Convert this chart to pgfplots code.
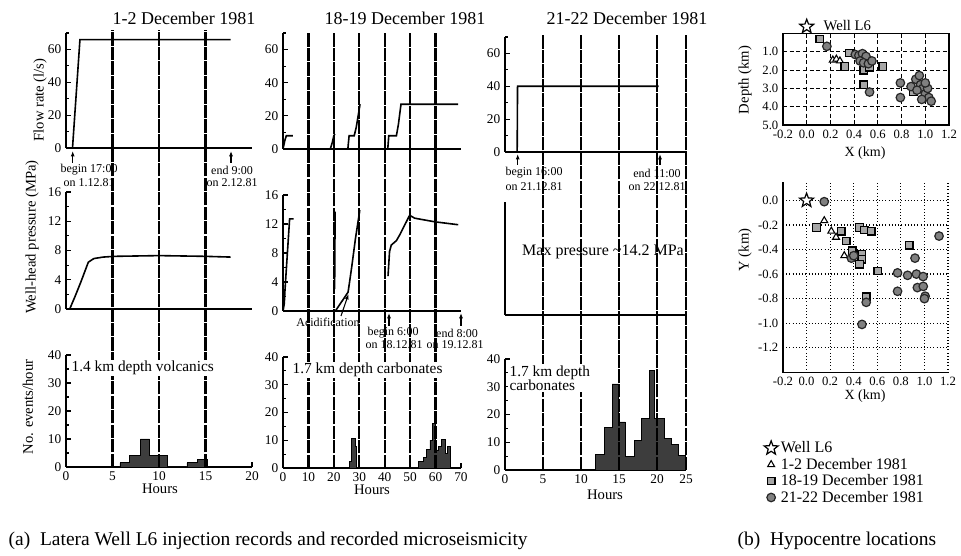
\documentclass[border=0pt]{standalone}
\usepackage{fontspec}
\setmainfont{Liberation Serif}
\usepackage{pgfplots}
\pgfplotsset{compat=1.18}
\usetikzlibrary{arrows.meta}
\newcommand{\fsz}[1]{\fontsize{#1}{#1}\selectfont}

\pgfdeclareplotmark{ostar}{%
  \pgfpathmoveto{\pgfpointpolar{90}{\pgfplotmarksize}}%
  \pgfpathlineto{\pgfpointpolar{126}{0.42\pgfplotmarksize}}%
  \pgfpathlineto{\pgfpointpolar{162}{\pgfplotmarksize}}%
  \pgfpathlineto{\pgfpointpolar{198}{0.42\pgfplotmarksize}}%
  \pgfpathlineto{\pgfpointpolar{234}{\pgfplotmarksize}}%
  \pgfpathlineto{\pgfpointpolar{270}{0.42\pgfplotmarksize}}%
  \pgfpathlineto{\pgfpointpolar{306}{\pgfplotmarksize}}%
  \pgfpathlineto{\pgfpointpolar{342}{0.42\pgfplotmarksize}}%
  \pgfpathlineto{\pgfpointpolar{18}{\pgfplotmarksize}}%
  \pgfpathlineto{\pgfpointpolar{54}{0.42\pgfplotmarksize}}%
  \pgfpathclose
  \pgfusepathqfillstroke
}

\pgfplotsset{
  panel/.style={
    scale only axis, anchor=south west, clip=false,
    axis x line*=bottom, axis y line*=left,
    axis line style={line width=1.1pt},
    tick style={line width=0.9pt,black},
    tick align=inside,
    major tick length=3.5pt, minor tick length=2.2pt,
    /pgf/number format/assume math mode=true,
    tick label style={font=\fsz{10}},
    ytick pos=left, xtick pos=bottom,
  },
  c1/.style={panel, xmin=0, xmax=20, width=139.5pt},
  c2/.style={panel, xmin=0, xmax=70, width=133.5pt},
  c3/.style={panel, xmin=0, xmax=23.8, width=135.75pt},
  flow/.style={ymin=0, ymax=70, ytick={0,20,40,60}, minor ytick={10,30,50,70}, xtick=\empty},
  pres/.style={ymin=0, ymax=16, ytick={0,4,8,12,16}, minor ytick={2,6,10,14}, xtick=\empty},
  hist/.style={ymin=0, ymax=40, ytick={0,10,20,30,40}, minor ytick={5,15,25,35}},
  curve/.style={black, line width=1.2pt, no marks},
  bars/.style={draw=black, line width=0.6pt, fill=black!76, const plot mark left, no marks},
  vline/.style={black, line width=1.8pt, dash pattern=on 10pt off 0.9pt, no marks},
  loc/.style={
    scale only axis, anchor=south west, clip=false,
    xmin=-0.2, xmax=1.2,
    xtick={-0.2,0,0.2,0.4,0.6,0.8,1.0,1.2},
    axis line style={line width=1.1pt},
    major tick length=0pt,
    /pgf/number format/assume math mode=true,
    /pgf/number format/fixed, /pgf/number format/fixed zerofill, /pgf/number format/precision=1,
    tick label style={font=\fsz{9.5}},
    grid=major,
  },
  tri/.style={only marks, mark=triangle*, mark size=3pt, mark options={fill=white, draw=black, line width=0.8pt}},
  sq/.style={only marks, mark=square*, mark size=2.8pt, mark options={fill=black!35, draw=black, line width=1pt}},
  circ/.style={only marks, mark=*, mark size=3.2pt, mark options={fill=black!50, draw=black!85, line width=0.9pt}},
  wstar/.style={only marks, mark=ostar, mark size=5.5pt, mark options={fill=white, draw=black, line width=0.9pt}},
}

\begin{document}
\begin{tikzpicture}[x=0.75pt,y=0.75pt]
\path[use as bounding box] (0,0) rectangle (961,556);

% ---------------- Column 1 : 1-2 December 1981
\begin{axis}[c1, flow, height=86.25pt, at={(66*0.75pt,408*0.75pt)}]
\addplot[curve] coordinates {(0.7,0)(1.5,66)(17.7,66)};
\end{axis}
\begin{axis}[c1, pres, height=87.75pt, at={(66*0.75pt,247*0.75pt)}]
\addplot[curve] coordinates {(0.4,0)(1,1.8)(1.6,3.7)(2.4,6.4)(3,6.9)(4,7.1)(5.2,7.2)(10,7.3)(15,7.2)(17.7,7.1)};
\end{axis}
\begin{axis}[c1, hist, height=84pt, at={(66*0.75pt,89*0.75pt)}, xtick={0,5,10,15,20}]
\addplot[bars] coordinates {(5.8,1.5)(6.8,4.2)(8,10)(9,4.2)(10.9,0)(13,1.5)(14.1,2.7)(15.2,2.7)} \closedcycle;
\addplot[vline] coordinates {(5,0)(5,156)};
\addplot[vline] coordinates {(10,0)(10,156)};
\addplot[vline] coordinates {(15,0)(15,156)};
\end{axis}

% ---------------- Column 2 : 18-19 December 1981
\begin{axis}[c2, flow, height=87pt, at={(283*0.75pt,407*0.75pt)}]
\addplot[curve] coordinates {(0,0)(0.7,5)(1.3,8)(3.9,8)};
\addplot[curve] coordinates {(18.6,0)(19.4,4)(20,8)(20.4,9)};
\addplot[curve] coordinates {(25.5,0)(26,8)(28,8)(28.8,13)(30.3,27)};
\addplot[curve] coordinates {(41.2,0)(41.6,8)(44.6,8)(45.4,15)(46.4,27)(68.9,27)};
\end{axis}
\begin{axis}[c2, pres, height=87pt, at={(283*0.75pt,245*0.75pt)}]
\addplot[curve] coordinates {(0,0)(0.5,1)(0.8,3)(2.6,12.7)(4.2,12.7)};
\addplot[curve] coordinates {(20.3,3)(20.5,13.7)};
\addplot[curve] coordinates {(20.6,0)(25.6,2.6)(27,6)(28.5,10)(30.2,13.9)};
\addplot[curve] coordinates {(41.3,4.8)(41.9,8.2)(42.6,9.1)(44.6,9.7)(45.9,10.5)(47.2,11.4)(49.8,13.2)(51.8,12.8)(59.7,12.3)(68.9,11.9)};
\end{axis}
\begin{axis}[c2, hist, height=83.25pt, at={(283*0.75pt,88*0.75pt)}, xtick={0,10,20,30,40,50,60,70}]
\addplot[bars] coordinates {(26.1,2.2)(27,10.7)(28.3,7.7)(29,0)(53.2,2.2)(55.2,3.8)(56.5,6.7)(57.8,10)(58.7,16.2)(59.8,6.5)(61.1,7.9)(62.4,10.4)(63.7,5.2)(64.6,7.7)(65.9,7.7)} \closedcycle;
\addplot[vline] coordinates {(10,0)(10,156.8)};
\addplot[vline] coordinates {(20,0)(20,156.8)};
\addplot[vline] coordinates {(30,0)(30,156.8)};
\addplot[vline] coordinates {(40,0)(40,156.8)};
\addplot[vline] coordinates {(50,0)(50,156.8)};
\addplot[vline] coordinates {(60,0)(60,156.8)};
\end{axis}

% ---------------- Column 3 : 21-22 December 1981
\begin{axis}[c3, flow, height=86.25pt, at={(505*0.75pt,404*0.75pt)}]
\addplot[curve] coordinates {(1.6,0)(1.65,40)(20.2,40)};
\end{axis}
\begin{axis}[c3, ymin=0, ymax=16, ytick=\empty, xtick=\empty, height=84.75pt, at={(505*0.75pt,241*0.75pt)}]
\addplot[draw=none] coordinates {(0,0)};
\end{axis}
\begin{axis}[c3, hist, height=83.25pt, at={(505*0.75pt,86*0.75pt)}, xtick={0,5,10,15,20,23.8}, xticklabels={0,5,10,15,20,25}]
\addplot[bars] coordinates {(11.9,5.7)(13.07,15.3)(14.08,31)(14.96,17.3)(15.83,4.8)(17.02,10.5)(17.98,18.5)(18.99,35.8)(19.65,18.5)(20.96,11.3)(21.84,9.3)(22.8,5.4)(23.68,5.4)} \closedcycle;
\addplot[vline] coordinates {(5,0)(5,156.8)};
\addplot[vline] coordinates {(10,0)(10,156.8)};
\addplot[vline] coordinates {(15,0)(15,156.8)};
\addplot[vline] coordinates {(20,0)(20,156.8)};
\addplot[vline] coordinates {(23.8,0)(23.8,156.8)};
\end{axis}

% ---------------- (b) depth section
\begin{axis}[loc, at={(783*0.75pt,431*0.75pt)}, width=124.5pt, height=68.6pt,
  ymin=0, ymax=5, y dir=reverse, ytick={1,2,3,4,5},
  grid style={densely dashed, black, line width=0.7pt}]
\addplot[wstar] coordinates {(0,-0.38)};
\addplot[tri] coordinates {(0.22,1.45)(0.25,1.4)(0.28,1.5)};
\addplot[sq] coordinates {(0.11,0.3)(0.36,1.07)(0.32,1.8)(0.48,2.0)(0.53,1.85)(0.64,1.8)(0.48,2.8)(0.9,3.2)};
\addplot[circ] coordinates {(0.17,0.7)(0.41,1.15)(0.44,1.2)(0.47,1.1)(0.5,1.25)(0.45,1.5)(0.48,1.6)(0.52,1.65)(0.55,1.5)(0.53,3.2)(0.79,2.7)(0.79,3.5)(0.88,2.9)(0.92,2.5)(0.95,2.3)(0.96,2.8)(0.98,3.0)(1.0,3.3)(1.02,3.0)(1.03,3.5)(1.05,3.7)(0.93,3.1)(1.0,2.7)(0.97,3.6)};
\end{axis}

% ---------------- (b) plan view
\begin{axis}[loc, at={(783*0.75pt,183.7*0.75pt)}, width=123.75pt, height=142.7pt,
  ymin=-1.4, ymax=0.15, ytick={-1.2,-1.0,-0.8,-0.6,-0.4,-0.2,0},
  axis x line*=bottom, axis y line*=left,
  grid style={dotted, black, line width=0.9pt},
  legend cell align=left,
  legend style={at={(-0.14,-0.335)}, anchor=north west, draw=none, fill=none, font=\fsz{12}, row sep=-1.5pt}]
\addplot[wstar] coordinates {(0,0)};
\addlegendentry{Well L6}
\addplot[tri] coordinates {(0.15,-0.165)(0.21,-0.25)(0.25,-0.3)(0.32,-0.45)};
\addlegendentry{1-2 December 1981}
\addplot[sq] coordinates {(0.084,-0.22)(0.295,-0.25)(0.337,-0.33)(0.388,-0.41)(0.449,-0.22)(0.49,-0.24)(0.548,-0.25)(0.468,-0.44)(0.468,-0.48)(0.449,-0.52)(0.604,-0.575)(0.871,-0.365)(0.506,-0.785)};
\addlegendentry{18-19 December 1981}
\addplot[circ] coordinates {(0.15,-0.01)(0.38,-0.47)(0.4,-0.45)(0.47,-1.01)(0.506,-0.83)(0.772,-0.59)(0.857,-0.61)(0.772,-0.74)(0.92,-0.47)(0.932,-0.60)(0.989,-0.62)(0.94,-0.71)(0.99,-0.70)(1.006,-0.78)(1.0,-0.80)(1.124,-0.29)};
\addlegendentry{21-22 December 1981}
\end{axis}

% ---------------- text
\begin{scope}[shift={(0,417pt)}, x=0.75pt, y=-0.75pt]
\node[font=\fsz{13.5}] at (184,18) {1-2 December 1981};
\node[font=\fsz{13.5}] at (405,18) {18-19 December 1981};
\node[font=\fsz{13.5}] at (627,18) {21-22 December 1981};

\node[font=\fsz{11}, rotate=90] at (40,100) {Flow rate (l/s)};
\node[font=\fsz{11}, rotate=90] at (32,237) {Well-head pressure (MPa)};
\node[font=\fsz{11}, rotate=90] at (28,407) {No. events/hour};

\begin{scope}[font=\fsz{9}, inner sep=0pt]
\node at (89,170) {begin 17:00};
\node at (89,183) {on 1.12.81};
\node at (232,170) {end 9:00};
\node at (232,183) {on 2.12.81};
\node at (393,333) {begin 6:00};
\node at (394,345) {on 18.12.81};
\node at (457,333) {end 8:00};
\node at (455,345) {on 19.12.81};
\node at (534,173) {begin 16:00};
\node at (534,187) {on 21.12.81};
\node at (657,173) {end 11:00};
\node at (657,187) {on 22.12.81};
\node at (328,322) {Acidification};
\end{scope}
\draw[-{Latex[length=4pt,width=3pt]}, line width=0.8pt] (72.7,163) -- (72.7,151);
\draw[-{Latex[length=4pt,width=3pt]}, line width=0.8pt] (231,163) -- (231,151);
\draw[-{Latex[length=4pt,width=3pt]}, line width=0.8pt] (389,326) -- (389,313);
\draw[-{Latex[length=4pt,width=3pt]}, line width=0.8pt] (461,326) -- (461,313);
\draw[-{Latex[length=4pt,width=3pt]}, line width=0.8pt] (517.7,165) -- (517.7,154);
\draw[-{Latex[length=4pt,width=3pt]}, line width=0.8pt] (660,165) -- (660,154);
\draw[-{Latex[length=4pt,width=3pt]}, line width=0.8pt] (341,316) -- (348.5,294);

\node[font=\fsz{12}] at (603,252) {Max pressure \textasciitilde14.2 MPa};

\node[font=\fsz{11.5}, fill=white, inner sep=1pt, anchor=west] at (70,368) {1.4 km depth volcanics};
\node[font=\fsz{11.5}, fill=white, inner sep=1pt, anchor=west] at (291,370) {1.7 km depth carbonates};
\node[font=\fsz{11.5}, fill=white, inner sep=1pt, anchor=north west, align=left] at (508,364) {1.7 km depth\\[-1pt]carbonates};

\node[font=\fsz{11}] at (160,489) {Hours};
\node[font=\fsz{11}] at (372,490) {Hours};
\node[font=\fsz{11}] at (605,495) {Hours};

\node[font=\fsz{11}, rotate=90] at (745,80) {Depth (km)};
\node[font=\fsz{10.5}] at (865,153) {X (km)};
\node[font=\fsz{11}, rotate=90] at (745,250) {Y (km)};
\node[font=\fsz{10.5}] at (865,396) {X (km)};
\node[font=\fsz{11}, anchor=west] at (819,26) {Well L6};

\node[font=\fsz{14.6}, anchor=west] at (4,541) {(a)\enspace Latera Well L6 injection records and recorded microseismicity};
\node[font=\fsz{14.6}, anchor=west] at (733,541) {(b)\enspace Hypocentre locations};
\end{scope}
\end{tikzpicture}
\end{document}
